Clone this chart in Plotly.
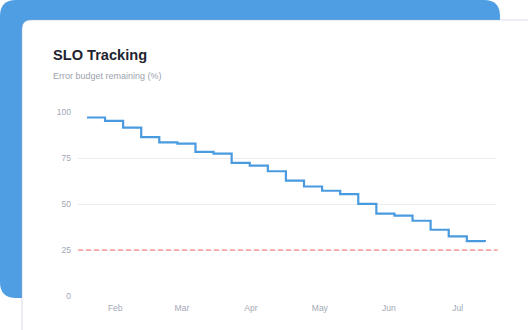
import plotly.graph_objects as go

# ---- data ----
dates = ["2024-02-03", "2024-02-11", "2024-02-19", "2024-02-27", "2024-03-06",
         "2024-03-14", "2024-03-22", "2024-03-30", "2024-04-07", "2024-04-15",
         "2024-04-23", "2024-05-01", "2024-05-09", "2024-05-17", "2024-05-25",
         "2024-06-02", "2024-06-10", "2024-06-18", "2024-06-26", "2024-07-04",
         "2024-07-12", "2024-07-20", "2024-07-28"]
budget = [97.0, 95.2, 91.5, 86.3, 83.5, 82.8, 78.3, 77.4, 72.4, 70.9, 67.8, 62.7,
          59.5, 57.2, 55.4, 50.1, 44.8, 43.7, 40.9, 36.0, 32.4, 29.8, 29.5]
threshold = 25
month_ticks = ["2024-02-15 12:00", "2024-03-16", "2024-04-15 12:00",
               "2024-05-16", "2024-06-15 12:00", "2024-07-16"]
month_labels = ["Feb", "Mar", "Apr", "May", "Jun", "Jul"]
y_ticks = [0, 25, 50, 75, 100]

# ---- layout geometry (pixels) ----
W, H = 528, 330
L, R, T, B = 78, 32, 112, 34
PW, PH = W - L - R, H - T - B

def px(x):
    return (x - L) / PW

def py(y):
    return (H - B - y) / PH

def rrect(x0, y0, x1, y1, r):
    return (f"M {px(x0)},{py(y0 + r)} Q {px(x0)},{py(y0)} {px(x0 + r)},{py(y0)} "
            f"L {px(x1 - r)},{py(y0)} Q {px(x1)},{py(y0)} {px(x1)},{py(y0 + r)} "
            f"L {px(x1)},{py(y1 - r)} Q {px(x1)},{py(y1)} {px(x1 - r)},{py(y1)} "
            f"L {px(x0 + r)},{py(y1)} Q {px(x0)},{py(y1)} {px(x0)},{py(y1 - r)} Z")

BLUE = "#4f9ee3"
LINE = "#4a9ae0"
FONT = "Liberation Sans, Arial, sans-serif"

fig = go.Figure()
fig.add_trace(go.Scatter(
    x=dates, y=budget, mode="lines",
    line=dict(color=LINE, width=2.2, shape="hv"),
    hoverinfo="skip", showlegend=False,
))

shapes = [
    dict(type="path", xref="paper", yref="paper", layer="below",
         path=rrect(0, 0, 500, 298, 16), fillcolor=BLUE, line=dict(width=0)),
    dict(type="path", xref="paper", yref="paper", layer="below",
         path=rrect(22, 20, 560, 380, 9), fillcolor="white",
         line=dict(color="rgba(170,180,200,0.45)", width=1)),
    dict(type="line", xref="paper", yref="y", x0=0, x1=1.004, y0=threshold, y1=threshold,
         layer="above", line=dict(color="#ff6f6f", width=1.2, dash="5px,3px")),
]

fig.update_layout(
    width=W, height=H,
    margin=dict(l=L, r=R, t=T, b=B, pad=0),
    paper_bgcolor="white",
    plot_bgcolor="rgba(0,0,0,0)",
    font=dict(family=FONT, color="#a3a8b4", size=8.5),
    shapes=shapes,
    xaxis=dict(
        type="date",
        range=["2024-01-30 01:00", "2024-08-01 22:00"],
        tickvals=month_ticks, ticktext=month_labels,
        showgrid=False, zeroline=False, showline=False, ticks="",
        tickfont=dict(size=8.5, color="#a3a8b4"),
        ticklabelstandoff=5,
    ),
    yaxis=dict(
        range=[0, 100],
        tickvals=y_ticks,
        showgrid=True, gridcolor="#ececf0", gridwidth=1,
        zeroline=False, showline=False, ticks="",
        tickfont=dict(size=8.5, color="#a3a8b4"),
        ticklabelstandoff=6,
    ),
    annotations=[
        dict(text="<b>SLO Tracking</b>", xref="paper", yref="paper",
             x=px(51), y=py(55), xanchor="left", yanchor="middle", showarrow=False,
             font=dict(size=14.6, color="#1f2430", family=FONT)),
        dict(text="Error budget remaining (%)", xref="paper", yref="paper",
             x=px(51), y=py(76), xanchor="left", yanchor="middle", showarrow=False,
             font=dict(size=9, color="#9da2ae", family=FONT)),
    ],
)

fig.write_html("out.html", config={"displayModeBar": False})
